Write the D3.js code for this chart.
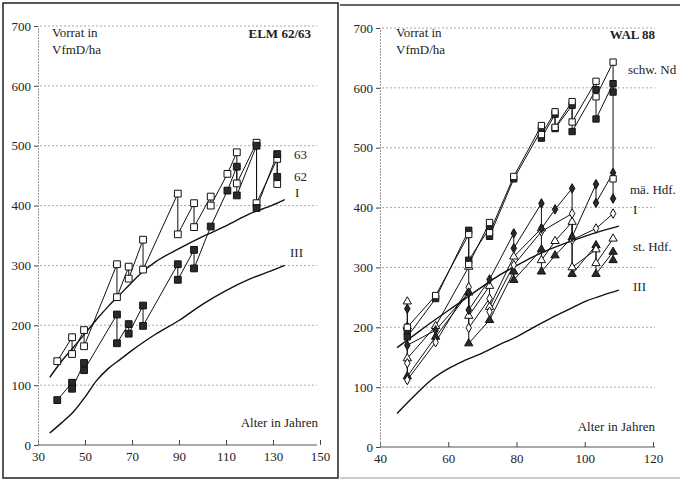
<!DOCTYPE html>
<html>
<head>
<meta charset="utf-8">
<script src="https://cdn.jsdelivr.net/npm/d3@7"></script>
<style>
body { margin: 0; background: #fff; }
svg text { font-family: "Liberation Serif", "Times New Roman", "DejaVu Serif", serif !important; fill: #222; }
</style>
</head>
<body>
<div id="chart"></div>
<script>
// ELM 62/63 – Alter und Vorrat vor / nach Durchforstung
var elmAges = [38.2, 44.5, 49.6, 63.6, 68.6, 74.7, 89.5, 96.4, 103.5, 110.6, 114.6, 123, 131.8];
var elm63Vor = [140, 180, 192, 302, 298, 343, 420, 404, 415, 453, 489, 505, 478];
var elm63Nach = [null, 152, 165, 247, 278, 293, 352, 364, 400, null, 437, 404, 436];
var elm62Vor = [75, 104, 137, 218, 202, 233, 302, 326, 365, 425, 465, 500, 486];
var elm62Nach = [null, 94, 125, 170, 186, 199, 276, 295, null, null, 417, 396, 448];

// Ertragstafel-Kurven links
var elmKurveAlter = [35, 40, 45, 50, 55, 60, 65, 70, 75, 80, 90, 100, 110, 120, 130, 135];
var elmKurveI = [113, 140, 163, 186, 210, 232, 252, 272, 291, 306, 328, 348, 366, 386, 401, 410];
var elmKurveIII = [20, 37, 55, 80, 108, 128, 143, 158, 172, 185, 208, 235, 258, 277, 292, 300];

// WAL 88
var walAges = [48, 56.3, 66, 72.1, 79.2, 87.3, 91.3, 96.3, 103.3, 108.3];
var ndOffenVor = [200, 253, 355, 375, 452, 537, 560, 577, 611, 643];
var ndOffenNach = [null, null, 305, 358, null, 522, 534, 543, 585, 448];
var ndVollVor = [193, 248, 362, 366, 448, 530, 556, 571, 597, 607];
var ndVollNach = [184, null, 312, 352, null, 516, 532, 527, 548, 593];
var maeVollVor = [231, 195, 258, 280, 357, 407, 397, 432, 439, 458];
var maeVollNach = [170, null, 229, null, 332, 365, null, 351, 408, 415];
var maeOffenVor = [140, 175, 267, 248, 304, 360, null, 390, 365, 390];
var maeOffenNach = [112, null, 199, 226, null, null, null, 346, null, null];
var stOffenVor = [243, 202, 301, 269, 318, 365, 344, 376, 330, 348];
var stOffenNach = [148, null, 219, 234, null, 312, null, 300, 307, null];
var stVollVor = [201, 184, 258, 212, 293, 330, 320, 350, 337, 326];
var stVollNach = [118, null, 173, null, 279, 293, null, 289, 289, 312];

var walKurveAlter = [45, 50, 55, 60, 65, 70, 75, 80, 85, 90, 95, 100, 105, 110];
var walKurveI = [166, 187, 208, 228, 248, 268, 287, 303, 318, 331, 342, 352, 361, 369];
var walKurveIII = [56, 85, 112, 131, 145, 157, 171, 184, 200, 215, 229, 243, 253, 262];

var yTicks = [0, 100, 200, 300, 400, 500, 600, 700];
var serif = "'Liberation Serif', 'Times New Roman', 'DejaVu Serif', serif";

var svg = d3.select("#chart")
.append("svg")
.attr("width", 680)
.attr("height", 481);

// frame
svg.append("rect")
.attr("x", 3).attr("y", 3).attr("width", 335).attr("height", 475)
.attr("fill", "none").attr("stroke", "#222").attr("stroke-width", 1.5);
svg.append("line").attr("x1", 340).attr("x2", 680).attr("y1", 5).attr("y2", 5)
.attr("stroke", "#333").attr("stroke-width", 1.5);
svg.append("line").attr("x1", 340).attr("x2", 680).attr("y1", 478).attr("y2", 478)
.attr("stroke", "#999").attr("stroke-width", 1);

function buildPoints(ages, vor, nach) {
	var pts = [];
	ages.forEach(function(a, i) {
		if (vor[i] != null) pts.push([a, vor[i]]);
		if (nach[i] != null) pts.push([a, nach[i]]);
	});
	return pts;
}

function drawPanel(cfg) {
	var g = svg.append("g");
	var x = d3.scaleLinear().domain(cfg.xDomain).range(cfg.xRange);
	var y = d3.scaleLinear().domain([0, 700]).range(cfg.yRange);

	// grid
	g.selectAll(".grid")
	.data(yTicks.slice(1))
	.enter()
	.append("line")
	.attr("x1", cfg.xRange[0] + 2)
	.attr("x2", cfg.gridEnd)
	.attr("y1", function(d) { return y(d); })
	.attr("y2", function(d) { return y(d); })
	.attr("stroke", "#aaa")
	.attr("stroke-width", 1)
	.attr("stroke-dasharray", "2,2");

	var xAxis = g.append("g")
	.attr("transform", "translate(0," + cfg.yRange[0] + ")")
	.call(d3.axisBottom(x).tickValues(cfg.xTicks).tickSize(-5).tickPadding(7).tickFormat(d3.format("d")));
	xAxis.attr("font-family", serif);
	xAxis.select(".domain").attr("stroke", "#555").attr("d", "M" + cfg.xRange[0] + ",0H" + cfg.gridEnd);
	xAxis.selectAll(".tick line").attr("stroke", "#444");
	xAxis.selectAll("text").attr("font-size", 13).attr("font-family", serif);

	var yAxis = g.append("g")
	.attr("transform", "translate(" + cfg.xRange[0] + ",0)")
	.call(d3.axisLeft(y).tickValues(yTicks).tickSize(4).tickPadding(3).tickFormat(d3.format("d")));
	yAxis.attr("font-family", serif);
	yAxis.select(".domain").attr("stroke", "#999").attr("stroke-dasharray", "2,1");
	yAxis.selectAll(".tick line").attr("stroke", "#444");
	yAxis.selectAll("text").attr("font-size", 13).attr("font-family", serif);

	var curve = d3.line()
	.x(function(d) { return x(d[0]); })
	.y(function(d) { return y(d[1]); })
	.curve(d3.curveMonotoneX);

	cfg.kurven.forEach(function(k) {
		g.append("path")
		.datum(cfg.kurveAlter.map(function(a, i) { return [a, k[i]]; }))
		.attr("d", curve)
		.attr("fill", "none")
		.attr("stroke", "#111")
		.attr("stroke-width", 1.4);
	});

	var line = d3.line()
	.x(function(d) { return x(d[0]); })
	.y(function(d) { return y(d[1]); });

	cfg.series.forEach(function(s) {
		var pts = buildPoints(cfg.ages, s.vor, s.nach);
		g.append("path")
		.datum(pts)
		.attr("d", line)
		.attr("fill", "none")
		.attr("stroke", "#111")
		.attr("stroke-width", 1);
	});

	cfg.series.forEach(function(s) {
		var pts = buildPoints(cfg.ages, s.vor, s.nach);
		g.selectAll(null)
		.data(pts)
		.enter()
		.append("path")
		.attr("transform", function(d) { return "translate(" + x(d[0]) + "," + y(d[1]) + ")"; })
		.attr("d", d3.symbol().type(s.symbol).size(s.size))
		.attr("fill", s.filled ? "#2a2a2a" : "#fff")
		.attr("stroke", "#111")
		.attr("stroke-width", 1);
	});

	cfg.labels.forEach(function(l) {
		g.append("text")
		.attr("x", l.x)
		.attr("y", l.y)
		.attr("text-anchor", l.anchor || "start")
		.attr("font-family", serif)
		.attr("font-size", l.size || 13)
		.attr("font-weight", l.bold ? "bold" : "normal")
		.text(l.text);
	});
}

drawPanel({
	xDomain: [30, 150], xRange: [38, 320], yRange: [445, 26], gridEnd: 317,
	xTicks: [30, 50, 70, 90, 110, 130, 150],
	kurveAlter: elmKurveAlter,
	kurven: [elmKurveI, elmKurveIII],
	ages: elmAges,
	series: [
		{vor: elm63Vor, nach: elm63Nach, symbol: d3.symbolSquare, size: 46, filled: false},
		{vor: elm62Vor, nach: elm62Nach, symbol: d3.symbolSquare, size: 46, filled: true}
	],
	labels: [
		{text: "Vorrat in", x: 52, y: 37},
		{text: "VfmD/ha", x: 52, y: 54},
		{text: "ELM 62/63", x: 311, y: 38, anchor: "end", bold: true},
		{text: "63", x: 294, y: 159},
		{text: "62", x: 294, y: 181},
		{text: "I", x: 295, y: 197},
		{text: "III", x: 290, y: 257},
		{text: "Alter in Jahren", x: 318, y: 427, anchor: "end"}
	]
});

drawPanel({
	xDomain: [40, 120], xRange: [380, 653], yRange: [447, 28], gridEnd: 655,
	xTicks: [40, 60, 80, 100, 120],
	kurveAlter: walKurveAlter,
	kurven: [walKurveI, walKurveIII],
	ages: walAges,
	series: [
		{vor: stVollVor, nach: stVollNach, symbol: d3.symbolTriangle, size: 30, filled: true},
		{vor: stOffenVor, nach: stOffenNach, symbol: d3.symbolTriangle, size: 30, filled: false},
		{vor: maeOffenVor, nach: maeOffenNach, symbol: d3.symbolDiamond, size: 26, filled: false},
		{vor: maeVollVor, nach: maeVollNach, symbol: d3.symbolDiamond, size: 26, filled: true},
		{vor: ndVollVor, nach: ndVollNach, symbol: d3.symbolSquare, size: 40, filled: true},
		{vor: ndOffenVor, nach: ndOffenNach, symbol: d3.symbolSquare, size: 40, filled: false}
	],
	labels: [
		{text: "Vorrat in", x: 396, y: 37},
		{text: "VfmD/ha", x: 396, y: 54},
		{text: "WAL 88", x: 655, y: 39, anchor: "end", bold: true},
		{text: "schw. Nd", x: 628, y: 74},
		{text: "mä. Hdf.", x: 630, y: 194},
		{text: "I", x: 633, y: 214},
		{text: "st. Hdf.", x: 633, y: 251},
		{text: "III", x: 633, y: 291},
		{text: "Alter in Jahren", x: 655, y: 431, anchor: "end"}
	]
});
</script>
</body>
</html>
